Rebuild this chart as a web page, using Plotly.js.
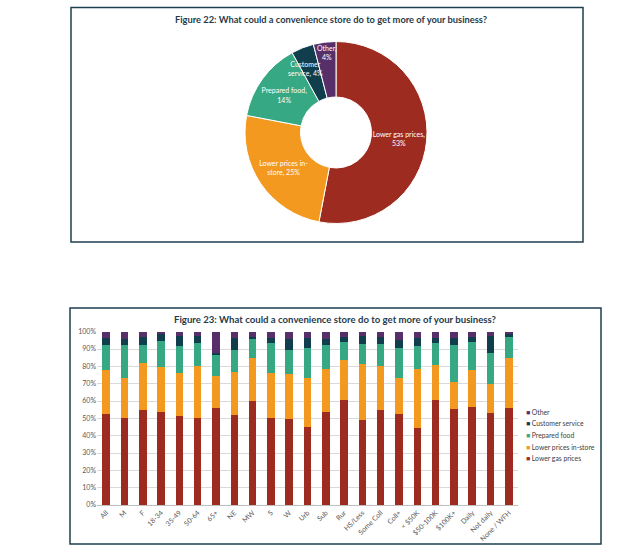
<!DOCTYPE html>
<html>
<head>
<meta charset="utf-8">
<script src="https://cdn.plot.ly/plotly-3.0.1.min.js"></script>
<style>html,body{margin:0;padding:0;background:#fff}#chart{width:627px;height:553px}</style>
</head>
<body>
<div id="chart"></div>
<script>
// ---------- Figure 22 data ----------
const pieLabels = ['Lower gas prices', 'Lower prices in-store', 'Prepared food', 'Customer service', 'Other'];
const pieValues = [53, 25, 14, 4, 4];
// in-slice templates for the large slices; the two thin slices get their label beside (see below)
const pieTemplates = [
  'Lower gas prices,<br>%{value}%',
  'Lower prices in-<br>store, %{value}%',
  'Prepared food,<br>%{value}%',
  '',
  ''
];
const smallSliceLabels = ['Customer<br>service, ' + pieValues[3] + '%', 'Other,<br>' + pieValues[4] + '%'];

// ---------- Figure 23 data ----------
const categories = ['All', 'M', 'F', '18-34', '35-49', '50-64', '65+', 'NE', 'MW', 'S', 'W',
  'Urb', 'Sub', 'Rur', 'HS/Less', 'Some Coll', 'Coll+', '< $50K', '$50-100K', '$100K+',
  'Daily', 'Not daily', 'None / WFH'];
const lowerGasPrices     = [52.5, 50.2, 54.8, 53.7, 51.5, 50.0, 56.0, 52.1, 59.8, 50.2, 49.4, 45.0, 53.7, 60.8, 49.0, 55.0, 52.5, 44.6, 60.4, 55.4, 56.5, 53.3, 56.2];
const lowerPricesInStore = [25.2, 23.3, 27.3, 26.1, 24.7, 30.0, 18.4, 24.4, 25.0, 26.0, 26.0, 28.5, 24.6, 22.7, 32.2, 25.0, 20.8, 33.9, 20.2, 15.6, 21.4, 16.5, 28.6];
const preparedFood       = [14.6, 18.8, 10.0, 14.8, 15.7, 13.5, 12.5, 12.7, 11.2, 17.3, 13.8, 16.9, 13.8, 10.3, 11.7, 13.1, 17.1, 13.0, 13.1, 21.5, 16.1, 18.1, 12.1];
const customerService    = [4.0, 3.5, 4.8, 4.1, 5.8, 4.2, 0.6, 7.1, 0.7, 2.8, 6.4, 5.8, 3.9, 3.1, 4.6, 3.8, 4.8, 4.8, 2.6, 3.7, 3.1, 9.6, 1.6];
const other              = [3.7, 4.2, 3.1, 1.3, 2.3, 2.3, 12.5, 3.7, 3.3, 3.7, 4.4, 3.8, 4.0, 3.1, 2.5, 3.1, 4.8, 3.7, 3.7, 3.8, 2.9, 2.5, 1.5];
const yTicks = [0, 10, 20, 30, 40, 50, 60, 70, 80, 90, 100];

const seriesNames = ['Lower gas prices', 'Lower prices in-store', 'Prepared food', 'Customer service', 'Other'];
const seriesData = [lowerGasPrices, lowerPricesInStore, preparedFood, customerService, other];
const colors = ['#9E2B1F', '#F3991F', '#36A883', '#103E4D', '#572F69'];

const W = 627, H = 553;
const px = v => v / W;
const py = v => 1 - v / H;
const FONT = 'Lato, "Source Sans Pro", sans-serif';
const TITLE_COLOR = '#1F3A4B';
const BORDER = '#1D4050';

const traces = [];
traces.push({
  type: 'pie',
  labels: pieLabels,
  values: pieValues,
  sort: false,
  direction: 'clockwise',
  rotation: 0,
  hole: 0.39,
  marker: {colors: colors, line: {color: '#ffffff', width: 1}},
  texttemplate: pieTemplates,
  textposition: 'inside',
  insidetextorientation: 'horizontal',
  textfont: {family: FONT, size: 7, color: '#ffffff'},
  showlegend: false,
  hoverinfo: 'label+percent',
  domain: {x: [px(245), px(427)], y: [py(223.5), py(41.5)]}
});

seriesNames.forEach((name, i) => {
  traces.push({
    type: 'bar',
    name: name,
    x: categories,
    y: seriesData[i],
    marker: {color: colors[i]},
    xaxis: 'x', yaxis: 'y',
    showlegend: false,
    hovertemplate: name + ': %{y:.1f}%<extra>%{x}</extra>'
  });
});

// compact legend (text generated from series names & colours), Other on top
const legendAnn = [];
for (let k = seriesNames.length - 1, row = 0; k >= 0; k--, row++) {
  legendAnn.push({
    xref: 'paper', yref: 'paper',
    x: px(524), y: py(411.7 + row * 11.65),
    xanchor: 'left', yanchor: 'middle',
    showarrow: false,
    text: '<span style="color:' + colors[k] + '">■</span> ' + seriesNames[k],
    font: {family: FONT, size: 6.8, color: '#404040'}
  });
}

// labels of the two thin donut slices
const smallAnn = [
  {x: px(305), y: py(69), text: smallSliceLabels[0]},
  {x: px(326.5), y: py(53), text: smallSliceLabels[1]}
].map(a => Object.assign({
  xref: 'paper', yref: 'paper', xanchor: 'center', yanchor: 'middle', showarrow: false,
  font: {family: FONT, size: 7, color: '#ffffff'}
}, a));

const layout = {
  width: W, height: H,
  margin: {l: 0, r: 0, t: 0, b: 0},
  paper_bgcolor: '#ffffff',
  plot_bgcolor: '#ffffff',
  showlegend: false,
  barmode: 'stack',
  bargap: 0.59,
  font: {family: FONT, color: '#595959'},
  xaxis: {
    domain: [px(97), px(518)],
    anchor: 'y',
    type: 'category',
    tickangle: -45,
    tickfont: {family: FONT, size: 7, color: '#595959'},
    showline: true, linecolor: '#BFBFBF', linewidth: 1,
    ticks: '', showgrid: false, fixedrange: true
  },
  yaxis: {
    domain: [py(505), py(331.7)],
    anchor: 'x',
    range: [0, 100],
    tickvals: yTicks,
    ticktext: yTicks.map(v => v + '%'),
    tickfont: {family: FONT, size: 7, color: '#595959'},
    showgrid: true, gridcolor: '#D9D9D9', gridwidth: 1,
    zeroline: false, showline: false, ticks: '', ticklen: 0,
    fixedrange: true
  },
  annotations: [
    {xref: 'paper', yref: 'paper', x: px(331), y: py(19), xanchor: 'center', yanchor: 'middle', showarrow: false,
     text: '<b>Figure 22: What could a convenience store do to get more of your business?</b>',
     font: {family: FONT, size: 9.3, color: TITLE_COLOR}},
    {xref: 'paper', yref: 'paper', x: px(335.5), y: py(319), xanchor: 'center', yanchor: 'middle', showarrow: false,
     text: '<b>Figure 23: What could a convenience store do to get more of your business?</b>',
     font: {family: FONT, size: 9.6, color: TITLE_COLOR}}
  ].concat(smallAnn, legendAnn),
  shapes: [
    {type: 'rect', xref: 'paper', yref: 'paper', x0: px(71), x1: px(583), y0: py(242), y1: py(7.5),
     line: {color: BORDER, width: 1.5}},
    {type: 'rect', xref: 'paper', yref: 'paper', x0: px(70), x1: px(601), y0: py(544), y1: py(308),
     line: {color: BORDER, width: 1.5}}
  ]
};

Plotly.newPlot('chart', traces, layout, {displayModeBar: false});
</script>
</body>
</html>
